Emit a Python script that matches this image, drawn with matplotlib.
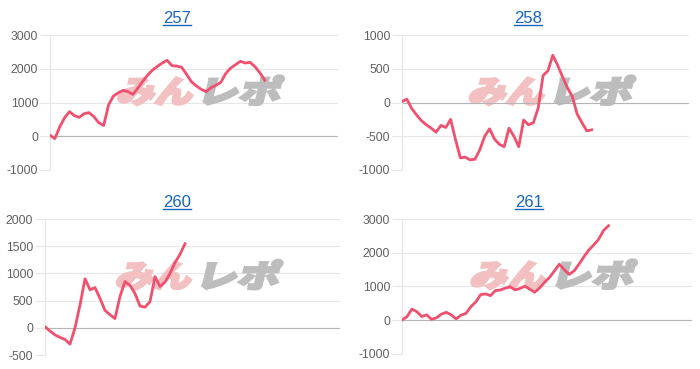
import matplotlib
matplotlib.use('Agg')
import matplotlib.pyplot as plt
from matplotlib.textpath import TextPath
from matplotlib.font_manager import FontProperties
from matplotlib.patches import PathPatch
from matplotlib.transforms import Affine2D, IdentityTransform
from matplotlib.lines import Line2D

plt.rcParams['axes.unicode_minus'] = False

# number of x slots on every chart (series only fill part of it)
n_slots = 60

titles = ['257', '258', '260', '261']

s257 = [30, -70, 280, 550, 730, 610, 560, 670, 700, 580, 400, 320, 930, 1190,
        1290, 1360, 1320, 1240, 1430, 1630, 1810, 1960, 2070, 2170, 2250, 2090,
        2080, 2040, 1830, 1610, 1490, 1390, 1320, 1440, 1510, 1600, 1860, 2020,
        2120, 2220, 2170, 2190, 2060, 1880, 1660]

s258 = [15, 50, -90, -185, -270, -330, -380, -440, -340, -370, -250, -550, -820,
        -810, -850, -840, -700, -500, -390, -540, -620, -655, -380, -500, -655,
        -260, -330, -300, -80, 400, 470, 700, 550, 380, 220, 90, -170, -300,
        -420, -405]

s260 = [20, -60, -130, -175, -215, -300, 0, 420, 900, 700, 740, 540, 320, 240,
        170, 580, 850, 780, 630, 400, 380, 480, 940, 760, 840, 1000, 1200, 1350,
        1545]

s261 = [10, 100, 330, 255, 110, 160, 30, 70, 180, 235, 160, 40, 150, 200, 400,
        540, 760, 780, 730, 880, 895, 950, 990, 900, 940, 1010, 920, 830, 960,
        1120, 1270, 1460, 1660, 1500, 1360, 1460, 1660, 1880, 2080, 2230, 2400,
        2660, 2800]

series = [s257, s258, s260, s261]
yticks = [
    [-1000, 0, 1000, 2000, 3000],
    [-1000, -500, 0, 500, 1000],
    [-500, 0, 500, 1000, 1500, 2000],
    [-1000, 0, 1000, 2000, 3000],
]

# axes rects in figure fraction
rects = [
    [0.0714, 0.5393, 0.4115, 0.3658],
    [0.5743, 0.5393, 0.4100, 0.3658],
    [0.0643, 0.0379, 0.4214, 0.3686],
    [0.5743, 0.0407, 0.4143, 0.3658],
]
title_pos = [(0.253, 0.9377), (0.754, 0.9377), (0.253, 0.439), (0.756, 0.439)]

line_color = '#f0506e'
grid_color = '#e6e6e6'
title_color = '#1565c0'
wm_pink = '#f3c0c2'
wm_grey = '#bdbdbd'

cjk = FontProperties(family='Noto Sans CJK JP', weight='heavy')


def watermark(ax):
    cx, cy = ax.transAxes.transform((0.52, 0.58))
    x0 = cx - 84
    y0 = cy - 11
    p1 = TextPath((0, 0), 'みん', size=1, prop=cjk)
    p2 = TextPath((0, 0), 'レポ', size=1, prop=cjk)
    t1 = Affine2D().scale(38, 31).skew_deg(14, 0).translate(x0, y0)
    t2 = Affine2D().scale(42, 31).skew_deg(14, 0).translate(x0 + 80, y0)
    ax.add_patch(PathPatch(t1.transform_path(p1), facecolor=wm_pink,
                           edgecolor=wm_pink, lw=1.8, joinstyle='miter',
                           transform=IdentityTransform(), zorder=1, clip_on=False))
    ax.add_patch(PathPatch(t2.transform_path(p2), facecolor=wm_grey,
                           edgecolor=wm_grey, lw=1.8, joinstyle='miter',
                           transform=IdentityTransform(), zorder=1, clip_on=False))


fig = plt.figure(figsize=(7, 3.69), dpi=100)
title_texts = []

for title, data, ticks, rect, tpos in zip(titles, series, yticks, rects, title_pos):
    ax = fig.add_axes(rect)
    ax.plot(range(len(data)), data, color=line_color, lw=2.0,
            solid_joinstyle='round', zorder=3)
    ax.set_xlim(0, n_slots - 1)
    ax.set_ylim(ticks[0], ticks[-1])
    ax.set_yticks(ticks)
    ax.set_xticks([])
    ax.yaxis.grid(True, color=grid_color, lw=0.8)
    ax.set_axisbelow(True)
    ax.axhline(0, color='#b5b5b5', lw=0.8, zorder=2)
    for side in ['top', 'right', 'bottom']:
        ax.spines[side].set_visible(False)
    ax.spines['left'].set_color(grid_color)
    ax.spines['left'].set_linewidth(0.8)
    ax.tick_params(axis='y', length=7, width=0.8, color=grid_color,
                   labelcolor='#606060', labelsize=8.7, pad=1.5)
    for lbl in ax.get_yticklabels():
        lbl.set_family('Liberation Sans')
    watermark(ax)
    t = fig.text(tpos[0], tpos[1], title, ha='center', va='baseline',
                 color=title_color, fontsize=12, family='Liberation Sans')
    title_texts.append(t)

# underline the titles like links
fig.canvas.draw()
for t in title_texts:
    bb = t.get_window_extent()
    yb = fig.transFigure.transform(t.get_position())[1] - 2
    fig.add_artist(Line2D([bb.x0, bb.x1], [yb, yb], color=title_color, lw=1,
                          transform=IdentityTransform()))

fig.savefig('out.png', dpi=100)
